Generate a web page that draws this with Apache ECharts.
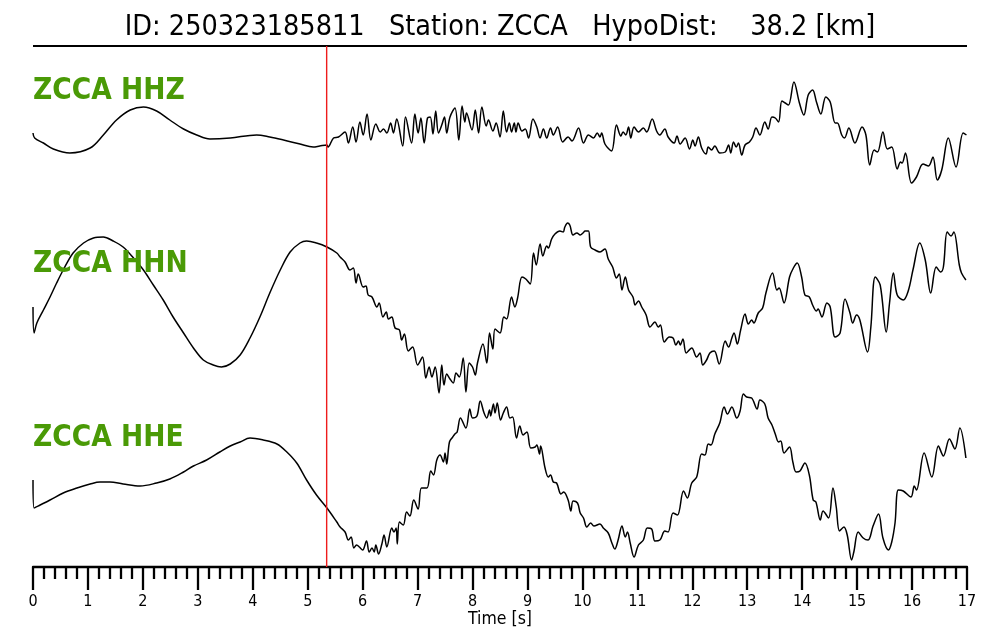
<!DOCTYPE html>
<html>
<head>
<meta charset="utf-8">
<script src="https://cdn.jsdelivr.net/npm/echarts@6/dist/echarts.min.js"></script>
<style>html,body{margin:0;padding:0;background:#fff}#c{width:1000px;height:640px}</style>
</head>
<body>
<div id="c"></div>
<script>
// ---- data (time in s, amplitude in arbitrary counts) ----
const titleText = 'ID: 250323185811   Station: ZCCA   HypoDist:    38.2 [km]';
const channels = ['ZCCA HHZ', 'ZCCA HHN', 'ZCCA HHE'];
const pickTime = 5.345;
const axisName = 'Time [s]';

const hhzTime = [0.00,0.03,0.19,0.37,0.67,1.04,1.28,1.52,1.77,2.01,2.25,2.49,2.74,2.98,3.22,3.59,4.07,4.31,4.56,4.86,5.10,5.22,5.35,5.37,5.47,5.56,5.68,5.74,5.82,5.88,5.95,6.01,6.08,6.15,6.24,6.32,6.38,6.44,6.51,6.56,6.62,6.73,6.78,6.89,6.95,7.01,7.06,7.12,7.18,7.23,7.28,7.33,7.38,7.44,7.49,7.53,7.59,7.68,7.75,7.81,7.86,7.89,7.99,8.05,8.11,8.17,8.25,8.29,8.37,8.43,8.50,8.56,8.62,8.67,8.71,8.76,8.79,8.83,8.90,8.96,9.02,9.10,9.17,9.23,9.29,9.35,9.42,9.47,9.55,9.64,9.74,9.81,9.93,10.02,10.11,10.20,10.27,10.32,10.35,10.41,10.53,10.62,10.70,10.74,10.79,10.84,10.88,10.94,11.02,11.11,11.17,11.27,11.35,11.41,11.50,11.56,11.67,11.72,11.78,11.87,11.95,12.01,12.05,12.11,12.17,12.25,12.29,12.35,12.41,12.50,12.60,12.66,12.70,12.75,12.80,12.84,12.90,12.96,13.04,13.10,13.16,13.23,13.32,13.38,13.45,13.51,13.57,13.63,13.69,13.75,13.85,13.95,14.03,14.11,14.19,14.26,14.34,14.43,14.51,14.60,14.64,14.72,14.77,14.85,14.96,15.09,15.16,15.23,15.31,15.37,15.47,15.55,15.63,15.73,15.79,15.82,15.88,15.99,16.08,16.20,16.30,16.38,16.46,16.54,16.66,16.80,16.93,16.99];
const hhzAmp  = [-3,-8,-13,-19,-23,-18,-5,10,20,23,19,10,1,-5,-9,-8,-5,-7,-10,-14,-17,-16,-15,-17,-8,-7,-2,-13,3,-12,8,-5,16,-10,6,-2,1,-3,7,-3,11,-16,13,-13,16,-3,12,-13,12,13,-4,19,-3,5,13,-3,13,22,-10,24,8,17,0,20,-3,23,4,10,-1,7,-7,19,-2,7,-2,7,-2,7,-1,1,-8,11,3,-8,1,-8,2,-5,3,-12,-7,-11,2,-13,-5,-8,-3,-7,-3,-14,-21,5,-6,-2,-5,3,-8,3,-2,2,-2,11,-1,-5,1,-7,-13,-6,-14,-8,-19,-10,-16,-7,-18,-24,-17,-20,-16,-23,-22,-15,-23,-12,-17,-13,-25,-15,-12,-7,2,-5,8,1,13,12,8,29,27,25,48,27,15,35,40,28,16,33,28,7,7,-5,-8,2,-13,3,-5,-35,-20,-22,-2,-19,-17,-39,-32,-33,-23,-53,-47,-34,-36,-27,-50,-40,-8,-37,-3,-5];

const hhnTime = [0.00,0.02,0.07,0.19,0.31,0.43,0.55,0.73,0.92,1.10,1.28,1.46,1.64,1.83,2.01,2.19,2.37,2.55,2.74,2.92,3.10,3.28,3.43,3.59,3.77,3.95,4.13,4.31,4.50,4.68,4.86,4.98,5.16,5.35,5.53,5.59,5.68,5.77,5.83,5.88,5.92,6.01,6.06,6.10,6.17,6.26,6.30,6.37,6.43,6.47,6.53,6.59,6.67,6.71,6.76,6.83,6.91,7.00,7.09,7.15,7.21,7.26,7.32,7.39,7.44,7.48,7.53,7.59,7.65,7.70,7.76,7.83,7.88,7.94,8.00,8.05,8.09,8.19,8.26,8.31,8.37,8.41,8.50,8.57,8.62,8.71,8.77,8.82,8.90,8.97,9.05,9.11,9.16,9.23,9.28,9.35,9.38,9.44,9.50,9.59,9.65,9.68,9.73,9.77,9.83,9.90,9.96,10.01,10.05,10.11,10.15,10.23,10.32,10.41,10.47,10.55,10.62,10.67,10.72,10.78,10.84,10.92,10.96,11.02,11.08,11.16,11.23,11.32,11.38,11.42,11.49,11.58,11.65,11.70,11.75,11.78,11.83,11.89,11.99,12.08,12.14,12.19,12.26,12.32,12.40,12.49,12.60,12.66,12.72,12.76,12.82,12.88,12.96,13.02,13.08,13.12,13.20,13.28,13.34,13.46,13.54,13.58,13.67,13.77,13.84,13.91,13.99,14.05,14.13,14.19,14.26,14.29,14.36,14.45,14.51,14.60,14.69,14.78,14.87,14.92,14.99,15.05,15.19,15.25,15.33,15.42,15.53,15.59,15.66,15.73,15.84,15.93,16.02,16.14,16.24,16.34,16.44,16.52,16.57,16.64,16.71,16.76,16.86,16.90,16.98];
const hhnAmp  = [0,-26,-16,-3,10,24,37,54,64,69,70,66,60,49,37,22,7,-10,-26,-41,-53,-58,-60,-57,-48,-31,-10,14,37,55,64,66,64,60,54,50,45,37,39,24,33,20,21,12,10,0,4,-10,-5,-12,-10,-21,-23,-33,-27,-44,-40,-58,-50,-71,-60,-70,-60,-86,-58,-78,-67,-72,-76,-66,-70,-51,-85,-56,-60,-68,-56,-37,-56,-26,-42,-22,-26,-10,-12,10,0,9,30,28,23,54,42,63,51,61,59,68,73,76,75,80,84,82,72,74,72,74,76,76,60,57,55,58,48,40,29,33,17,30,17,10,2,6,0,-8,-20,-15,-20,-18,-35,-30,-31,-38,-34,-38,-32,-46,-41,-50,-46,-58,-53,-46,-44,-57,-34,-40,-31,-26,-37,-23,-7,-17,-13,-16,-6,-1,14,34,17,19,4,30,39,44,30,12,10,2,-4,-2,-10,4,0,-30,-26,8,-6,-16,-8,-13,-45,-20,30,22,-25,4,34,12,7,16,38,64,47,14,40,35,40,75,71,75,42,34,27];

const hheTime = [0.00,0.02,0.13,0.31,0.55,0.80,1.04,1.22,1.40,1.64,1.95,2.25,2.49,2.74,2.92,3.16,3.40,3.59,3.77,3.95,4.19,4.44,4.62,4.80,4.98,5.16,5.35,5.53,5.59,5.68,5.74,5.79,5.84,5.89,5.94,6.00,6.07,6.12,6.17,6.21,6.24,6.29,6.35,6.39,6.44,6.53,6.57,6.61,6.63,6.67,6.74,6.80,6.86,6.93,7.01,7.07,7.17,7.24,7.29,7.35,7.41,7.47,7.50,7.53,7.58,7.64,7.68,7.72,7.78,7.88,7.95,8.00,8.08,8.14,8.21,8.26,8.31,8.33,8.38,8.41,8.45,8.51,8.56,8.62,8.68,8.73,8.80,8.86,8.92,8.99,9.06,9.14,9.17,9.22,9.24,9.32,9.38,9.42,9.47,9.53,9.61,9.66,9.74,9.79,9.83,9.91,9.96,10.02,10.08,10.15,10.21,10.32,10.38,10.47,10.53,10.59,10.65,10.72,10.78,10.82,10.87,10.94,11.02,11.11,11.18,11.26,11.32,11.41,11.50,11.56,11.65,11.73,11.84,11.91,11.99,12.08,12.17,12.23,12.29,12.34,12.41,12.50,12.58,12.64,12.72,12.81,12.87,12.93,12.99,13.08,13.18,13.23,13.32,13.38,13.45,13.51,13.57,13.61,13.67,13.77,13.83,13.89,13.96,14.05,14.13,14.20,14.25,14.33,14.38,14.48,14.56,14.62,14.68,14.76,14.82,14.90,14.94,15.02,15.11,15.20,15.29,15.39,15.47,15.57,15.63,15.69,15.75,15.84,15.98,16.04,16.08,16.22,16.36,16.48,16.57,16.68,16.78,16.87,16.98];
const hheAmp  = [-3,-31,-28,-23,-16,-11,-7,-5,-5,-7,-9,-6,-2,5,11,17,25,31,35,39,37,33,25,14,-3,-18,-31,-45,-50,-55,-63,-60,-71,-68,-70,-73,-64,-75,-71,-75,-68,-77,-67,-58,-70,-51,-55,-51,-67,-45,-48,-35,-39,-23,-32,-11,-11,6,2,17,22,15,24,13,35,40,43,45,59,49,68,59,61,76,64,59,67,61,73,64,74,57,64,70,59,60,39,51,42,45,29,30,32,23,31,9,0,2,-5,-6,-17,-15,-23,-34,-24,-26,-36,-41,-50,-46,-49,-47,-51,-56,-65,-72,-63,-49,-60,-55,-66,-80,-68,-63,-51,-52,-64,-63,-54,-55,-36,-38,-14,-21,-6,0,23,22,33,32,43,54,70,63,70,59,66,83,80,79,68,77,73,59,52,43,35,36,24,30,15,5,6,14,2,-23,-25,-43,-34,-41,-11,-30,-54,-50,-58,-83,-75,-55,-61,-63,-49,-37,-61,-73,-65,-46,-13,-14,-20,-9,-13,24,0,31,21,38,28,49,19];

const traces = [[hhzTime, hhzAmp], [hhnTime, hhnAmp], [hheTime, hheAmp]];

// ---- layout ----
const FONT = '"DejaVu Sans Condensed", "DejaVu Sans", sans-serif';
const grids = [
  {left: 33, right: 33, top: 60, height: 140},
  {left: 33, right: 33, top: 217, height: 180},
  {left: 33, right: 33, top: 387, height: 180},
  {left: 33, right: 33, top: 46, height: 521}
];
const yRanges = [[-70, 70], [-90, 90], [-90, 90], [0, 1]];
const labelY = [91, 264, 438];

const chart = echarts.init(document.getElementById('c'), null, {renderer: 'canvas'});

const xAxes = grids.map((g, i) => ({
  gridIndex: i, type: 'value', min: 0, max: 17, interval: 1,
  show: i === 2,
  axisLine: {show: true, onZero: false, lineStyle: {color: '#000', width: 2.3}},
  axisTick: {show: true, inside: false, length: 23, lineStyle: {color: '#000', width: 2.3}},
  minorTick: {show: true, splitNumber: 5, length: 12, lineStyle: {color: '#000', width: 2.3}},
  splitLine: {show: false},
  axisLabel: {color: '#000', fontSize: 16, fontFamily: FONT, margin: 27},
  name: i === 2 ? axisName : '',
  nameLocation: 'middle', nameGap: 42,
  nameTextStyle: {color: '#000', fontSize: 17.5, fontFamily: FONT}
}));
const yAxes = grids.map((g, i) => ({
  gridIndex: i, type: 'value', min: yRanges[i][0], max: yRanges[i][1], show: false
}));

const series = traces.map((tr, i) => ({
  type: 'line', xAxisIndex: i, yAxisIndex: i, symbol: 'none', silent: true,
  smooth: 0.35,
  lineStyle: {color: '#000', width: 1.5},
  data: tr[0].map((t, k) => [t, tr[1][k]]),
  z: 2
}));
series.push({
  type: 'line', xAxisIndex: 3, yAxisIndex: 3, symbol: 'none', silent: true,
  lineStyle: {color: '#ee1c1c', width: 1.4},
  data: [[pickTime, 0], [pickTime, 1]], z: 3
});

const graphics = [
  {type: 'text', left: 'center', top: 13, style: {text: titleText, font: '28.5px ' + FONT, fill: '#000'}},
  {type: 'line', shape: {x1: 33, y1: 46, x2: 967, y2: 46}, style: {stroke: '#000', lineWidth: 1.8}}
];
channels.forEach((c, i) => graphics.push({
  type: 'text', x: 33, y: labelY[i], z: 10,
  style: {text: c, font: 'bold 29.5px ' + FONT, fill: '#4a9a06', textVerticalAlign: 'middle'}
}));

chart.setOption({
  animation: false,
  backgroundColor: '#fff',
  grid: grids,
  xAxis: xAxes,
  yAxis: yAxes,
  series: series,
  graphic: graphics
});
</script>
</body>
</html>
